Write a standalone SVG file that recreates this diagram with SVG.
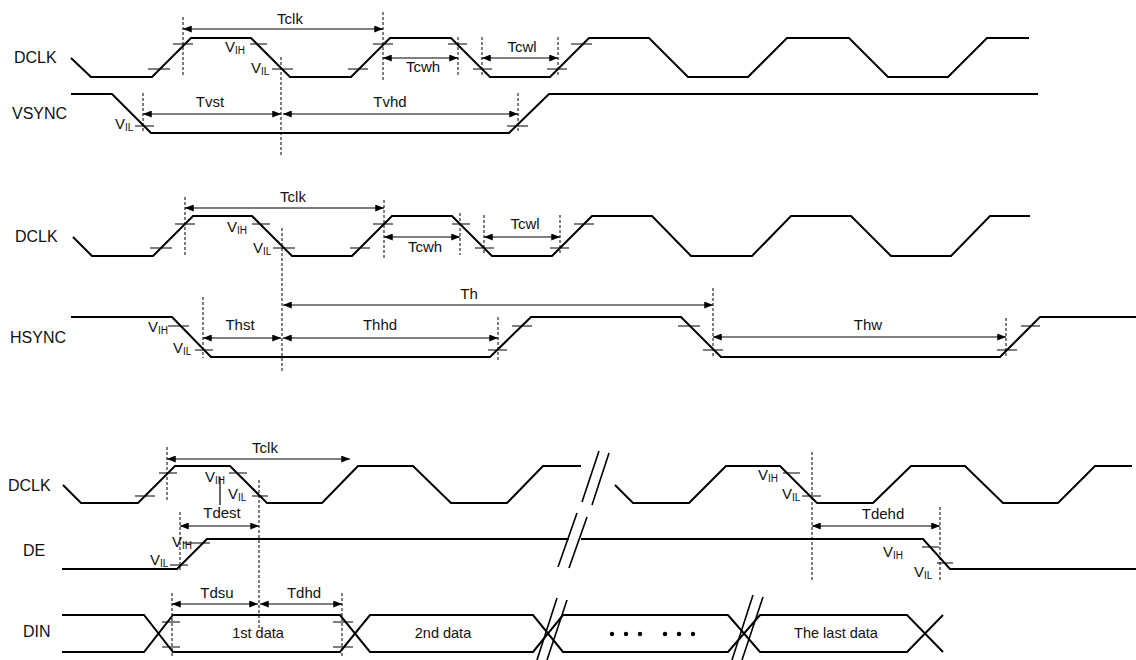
<svg xmlns="http://www.w3.org/2000/svg" width="1136" height="660" viewBox="0 0 1136 660">
<style>
text{font-family:"Liberation Sans",Arial,sans-serif;fill:#111}
.lbl{font-size:16px}
.tm{font-size:15px;text-anchor:middle}
.v{font-size:15px}
.sub{font-size:10px}
.dt{font-size:14.5px;text-anchor:middle}
.w{fill:none;stroke:#000;stroke-width:2;stroke-linejoin:miter}
.d{stroke:#000;stroke-width:1;stroke-dasharray:3 2;fill:none}
.t{stroke:#000;stroke-width:1.2;fill:none}
.a{stroke:#000;stroke-width:1.2;fill:none;marker-start:url(#ah);marker-end:url(#ah)}
.s{stroke:#000;stroke-width:1.6;fill:none}
</style>
<defs>
<marker id="ah" viewBox="0 0 10 8" refX="10" refY="4" markerWidth="9" markerHeight="7" markerUnits="userSpaceOnUse" orient="auto-start-reverse"><path d="M0,0 L10,4 L0,8 z" fill="#000"/></marker>
</defs>
<rect width="1136" height="660" fill="#fff"/>

<!-- Section 1 -->
<g id="dclk1">
<text class="lbl" x="14" y="63">DCLK</text>
<path class="w" d="M71,58 L91,77 L152,77 L191,38 L251,38 L290,77 L351,77 L390,38 L451,38 L490,77 L550,77 L589,38 L649,38 L688,77 L748,77 L787,38 L849,38 L888,77 L948,77 L987,38 L1029,38"/>
<path class="t" d="M148,69H170M173,44H193M250,44H267M272,69H293M348,69H368M373,44H393M448,44H467M473,69H492M547,69H567M571,44H592"/>
<text class="v" x="225" y="52">V<tspan class="sub" dy="2">IH</tspan></text>
<text class="v" x="251" y="73">V<tspan class="sub" dy="2">IL</tspan></text>
</g>
<g id="vsync">
<text class="lbl" x="12" y="119">VSYNC</text>
<path class="w" d="M71,94 L112,94 L151,133 L509,133 L549,94 L1038,94"/>
<path class="t" d="M135,126H154M507,126H528"/>
<text class="v" x="115" y="129">V<tspan class="sub" dy="2">IL</tspan></text>
</g>
<g id="dims1">
<path class="d" d="M183,17V77M281,57V155M383,12V80M458,37V77M482,37V77M558,37V77M143,93V133M518,93V133"/>
<path class="a" d="M183,29H383"/>
<path class="a" d="M383,58H458"/>
<path class="a" d="M482,58H558"/>
<path class="a" d="M143,114H281"/>
<path class="a" d="M283,114H518"/>
<text class="tm" x="290" y="24">Tclk</text>
<text class="tm" x="423" y="72">Tcwh</text>
<text class="tm" x="522" y="52">Tcwl</text>
<text class="tm" x="210" y="107">Tvst</text>
<text class="tm" x="390" y="107">Tvhd</text>
</g>

<!-- Section 2 -->
<g id="dclk2">
<text class="lbl" x="15" y="242">DCLK</text>
<path class="w" d="M73,237 L92,256 L153,256 L193,216 L252,216 L292,256 L352,256 L392,216 L452,216 L492,256 L552,256 L592,216 L652,216 L691,256 L752,256 L791,216 L851,216 L891,256 L951,256 L990,216 L1030,216"/>
<path class="t" d="M150,248H172M175,224H195M252,224H270M273,248H295M350,248H370M373,224H393M452,224H470M475,248H494M550,248H569M574,224H594"/>
<text class="v" x="227" y="232">V<tspan class="sub" dy="2">IH</tspan></text>
<text class="v" x="253" y="253">V<tspan class="sub" dy="2">IL</tspan></text>
</g>
<g id="hsync">
<text class="lbl" x="10" y="343">HSYNC</text>
<path class="w" d="M71,317 L172,317 L211,357 L490,357 L531,317 L681,317 L721,357 L1000,357 L1040,317 L1136,317"/>
<path class="t" d="M168,326H189M195,350H213M488,350H507M512,326H532M678,326H700M703,350H723M997,350H1017M1021,326H1040"/>
<text class="v" x="148" y="332">V<tspan class="sub" dy="2">IH</tspan></text>
<text class="v" x="173" y="353">V<tspan class="sub" dy="2">IL</tspan></text>
</g>
<g id="dims2">
<path class="d" d="M185,197V255M282,228V373M384,200V260M460,213V255M484,215V255M560,215V255M713,288V357M203,297V358M498,317V360M1006,318V358"/>
<path class="a" d="M185,208H384"/>
<path class="a" d="M384,237H460"/>
<path class="a" d="M484,237H560"/>
<path class="a" d="M283,305H713"/>
<path class="a" d="M203,338H281"/>
<path class="a" d="M283,338H498"/>
<path class="a" d="M713,337H1006"/>
<text class="tm" x="293" y="202">Tclk</text>
<text class="tm" x="425" y="252">Tcwh</text>
<text class="tm" x="525" y="229">Tcwl</text>
<text class="tm" x="469" y="299">Th</text>
<text class="tm" x="240" y="330">Thst</text>
<text class="tm" x="380" y="330">Thhd</text>
<text class="tm" x="868" y="330">Thw</text>
</g>

<!-- Section 3 -->
<g id="dclk3">
<text class="lbl" x="8" y="491">DCLK</text>
<path class="w" d="M63,485 L81,503 L138,503 L175,466 L230,466 L267,503 L322,503 L358,466 L413,466 L451,503 L507,503 L543,466 L581,466"/>
<path class="w" d="M615,485 L633,503 L689,503 L726,466 L780,466 L817,503 L873,503 L911,466 L965,466 L1003,503 L1058,503 L1095,466 L1132,466"/>
<path class="s" d="M582,502L599,451M592,505L609,453"/>
<path class="t" d="M135,496H155M159,473H177M229,473H247M252,496H268M783,473H800M802,496H821M220,477V505"/>
<text class="v" x="205" y="482">V<tspan class="sub" dy="2">IH</tspan></text>
<text class="v" x="228" y="499">V<tspan class="sub" dy="2">IL</tspan></text>
<text class="v" x="758" y="480">V<tspan class="sub" dy="2">IH</tspan></text>
<text class="v" x="782" y="499">V<tspan class="sub" dy="2">IL</tspan></text>
</g>
<g id="de">
<text class="lbl" x="23" y="556">DE</text>
<path class="w" d="M62,569 L177,569 L207,539 L569,539"/>
<path class="w" d="M581,539 L923,539 L950,569 L1136,569"/>
<path class="s" d="M558,567L577,513M569,568L587,517"/>
<path class="t" d="M183,543H210M170,565H188M922,547H939M937,563H953"/>
<text class="v" x="172" y="547">V<tspan class="sub" dy="2">IH</tspan></text>
<text class="v" x="150" y="565">V<tspan class="sub" dy="2">IL</tspan></text>
<text class="v" x="883" y="557">V<tspan class="sub" dy="2">IH</tspan></text>
<text class="v" x="914" y="577">V<tspan class="sub" dy="2">IL</tspan></text>
</g>
<g id="din">
<text class="lbl" x="23" y="637">DIN</text>
<path class="w" d="M62,615 L144,615 L173,652 L340,652 L370,615 L533,615 L563,652 L728,652 L760,615 L907,615 L943,652"/>
<path class="w" d="M62,652 L144,652 L173,615 L340,615 L370,652 L533,652 L563,615 L728,615 L760,652 L907,652 L943,615"/>
<path class="s" d="M537,660L557,598M547,660L567,600M732,660L753,595M742,660L763,597"/>
<path class="t" d="M162,622H180M162,647H180M333,622H353M333,647H353"/>
<text class="dt" x="258" y="638">1st data</text>
<text class="dt" x="443" y="638">2nd data</text>
<text class="dt" x="836" y="638">The last data</text>
<g fill="#000"><circle cx="612" cy="634" r="2.2"/><circle cx="626" cy="634" r="2.2"/><circle cx="640" cy="634" r="2.2"/><circle cx="665" cy="634" r="2.2"/><circle cx="679" cy="634" r="2.2"/><circle cx="693" cy="634" r="2.2"/></g>
</g>
<g id="dims3">
<path class="d" d="M167,447V502M259,480V630M180,512V570M812,452V582M940,507V580M172,593V657M342,593V657"/>
<path class="a" d="M167,459H350"/>
<path class="a" d="M180,526H259"/>
<path class="a" d="M812,526H940"/>
<path class="a" d="M172,604H258"/>
<path class="a" d="M260,604H342"/>
<text class="tm" x="265" y="453">Tclk</text>
<text class="tm" x="222" y="518">Tdest</text>
<text class="tm" x="883" y="519">Tdehd</text>
<text class="tm" x="217" y="598">Tdsu</text>
<text class="tm" x="304" y="598">Tdhd</text>
</g>
</svg>
